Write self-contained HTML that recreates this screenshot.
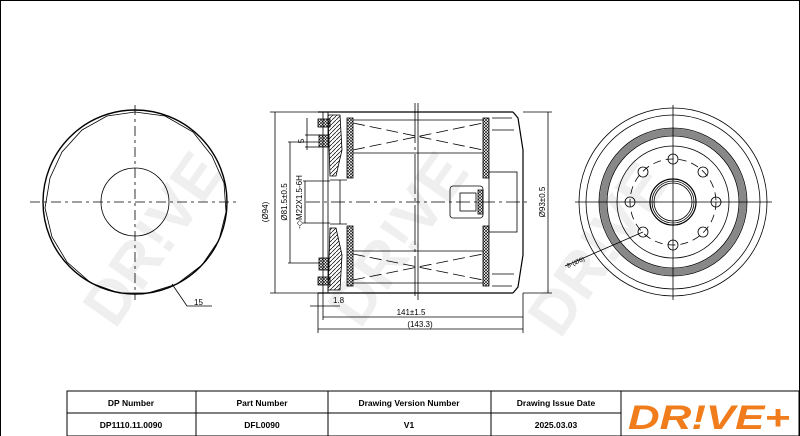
<!DOCTYPE html>
<html><head><meta charset="utf-8"><style>
html,body{margin:0;padding:0;background:#fff;}
svg{display:block;font-family:"Liberation Sans",sans-serif;}
</style></head><body>
<svg width="800" height="436" viewBox="0 0 800 436" xmlns="http://www.w3.org/2000/svg">
<defs>
<pattern id="hx" width="3" height="3" patternUnits="userSpaceOnUse"><path d="M0 3L3 0M0 0L3 3" stroke="#000" stroke-width="0.6"/></pattern>
<pattern id="hd" width="4" height="4" patternUnits="userSpaceOnUse"><path d="M0 4L4 0" stroke="#000" stroke-width="0.7"/></pattern>
</defs>
<rect x="0.5" y="0.5" width="799" height="436" fill="none" stroke="#000"/>
<g fill="#efefef" font-weight="bold" font-size="62">
<text transform="translate(115,330) rotate(-55)">DR!VE</text>
<text transform="translate(360,330) rotate(-55)">DR!VE</text>
<text transform="translate(560,340) rotate(-55)">DR!VE</text>
</g>
<g stroke="#000" fill="none" stroke-width="0.8">
<circle cx="135" cy="202" r="92" stroke-width="1.4"/>
<polygon points="135,112 165,116 193,132 212,156 224,183 226,212 219,240 202,265 177,284 148,293 119,293 91,283 67,262 52,237 45,208 50,178 62,152 82,130 107,116" />
<circle cx="135" cy="202" r="34"/>
<line x1="30" y1="202" x2="240" y2="202" stroke-dasharray="10,4,3,4"/>
<line x1="135" y1="105" x2="135" y2="300" stroke-dasharray="10,4,3,4"/>
<polyline points="172,284 187,306 212,306"/>
<line x1="318" y1="112" x2="513" y2="112" stroke-width="1.2"/>
<line x1="318" y1="293" x2="513" y2="293" stroke-width="1.2"/>
<polyline points="513,112 518,118 523,150 523,255 518,287 513,293" stroke-width="1.2"/>
<rect x="323" y="112" width="5" height="181"/>
<rect x="318" y="119" width="12" height="8" fill="url(#hx)"/>
<rect x="318" y="277" width="12" height="8" fill="url(#hx)"/>
<rect x="319" y="135" width="10" height="12" fill="url(#hx)"/>
<rect x="319" y="258" width="10" height="12" fill="url(#hx)"/>
<polygon points="328,115 340,115 342,150 336,176 330,176" fill="url(#hd)"/>
<polygon points="328,290 340,290 342,255 336,228 330,228" fill="url(#hd)"/>
<rect x="347" y="118" width="6" height="60" fill="url(#hx)"/>
<rect x="347" y="226" width="6" height="60" fill="url(#hx)"/>
<rect x="483" y="118" width="6" height="60" fill="url(#hx)"/>
<rect x="483" y="226" width="6" height="60" fill="url(#hx)"/>
<line x1="353" y1="120" x2="483" y2="120"/><line x1="353" y1="153" x2="483" y2="153"/>
<line x1="353" y1="251" x2="483" y2="251"/><line x1="353" y1="283" x2="483" y2="283"/>
<line x1="353" y1="123" x2="483" y2="150" stroke-dasharray="12,5"/>
<line x1="353" y1="150" x2="483" y2="123" stroke-dasharray="12,5"/>
<line x1="353" y1="254" x2="483" y2="280" stroke-dasharray="12,5"/>
<line x1="353" y1="280" x2="483" y2="254" stroke-dasharray="12,5"/>
<rect x="489" y="172" width="28" height="60"/>
<rect x="450" y="186" width="33" height="32" rx="3"/>
<rect x="460" y="193" width="16" height="18"/>
<rect x="478" y="190" width="5" height="24" fill="url(#hx)"/>
<path d="M492 118 H512 M492 130 H514 M492 286 H512 M492 274 H514"/>
<line x1="330" y1="180" x2="347" y2="180"/><line x1="330" y1="224" x2="347" y2="224"/>
<line x1="340" y1="180" x2="340" y2="224"/>
<line x1="306" y1="202" x2="528" y2="202" stroke-dasharray="14,4,3,4"/>
<line x1="415" y1="103" x2="415" y2="300" stroke-dasharray="40,4,3,4"/>
<line x1="418" y1="103" x2="418" y2="300"/>
<line x1="275" y1="112" x2="275" y2="293"/>
<line x1="270" y1="112" x2="318" y2="112"/><line x1="270" y1="293" x2="318" y2="293"/>
<line x1="290" y1="142" x2="290" y2="263"/>
<line x1="288" y1="142" x2="320" y2="142"/><line x1="288" y1="263" x2="320" y2="263"/>
<line x1="305" y1="181" x2="305" y2="223"/>
<line x1="303" y1="181" x2="330" y2="181"/><line x1="303" y1="223" x2="330" y2="223"/>
<line x1="307" y1="118" x2="307" y2="150"/>
<line x1="305" y1="135" x2="320" y2="135"/><line x1="305" y1="147" x2="320" y2="147"/>
<line x1="548" y1="112" x2="548" y2="293"/>
<line x1="523" y1="112" x2="552" y2="112"/><line x1="523" y1="293" x2="552" y2="293"/>
<line x1="323" y1="317" x2="523" y2="317"/>
<line x1="318" y1="329" x2="523" y2="329"/>
<line x1="323" y1="293" x2="323" y2="320"/><line x1="318" y1="293" x2="318" y2="333"/>
<line x1="523" y1="293" x2="523" y2="333"/>
<line x1="310" y1="306" x2="340" y2="306"/>
<circle cx="673" cy="202" r="94"/>
<circle cx="673" cy="202" r="87"/>
<circle cx="673" cy="202" r="74"/>
<circle cx="673" cy="202" r="70" stroke-width="7" stroke="#888"/>
<circle cx="673" cy="202" r="66"/>
<circle cx="673" cy="202" r="56"/>
<circle cx="673" cy="202" r="43" stroke-dasharray="8,5"/>
<circle cx="673" cy="202" r="23" stroke-width="1.2"/>
<circle cx="673" cy="202" r="21"/>
<circle cx="673" cy="202" r="19"/>
<g>
<circle cx="673" cy="159" r="5"/><circle cx="673" cy="245" r="5"/>
<circle cx="630" cy="202" r="5"/><circle cx="716" cy="202" r="5"/>
<circle cx="643" cy="172" r="5"/><circle cx="703" cy="172" r="5"/>
<circle cx="643" cy="232" r="5"/><circle cx="703" cy="232" r="5"/>
</g>
<line x1="575" y1="202" x2="772" y2="202"/>
<line x1="673" y1="105" x2="673" y2="300"/>
<line x1="643" y1="232" x2="565" y2="266"/>
</g>
<g font-size="8" fill="#000">
<text x="194" y="305">15</text>
<text transform="translate(268,212) rotate(-90)" text-anchor="middle">(Ø94)</text>
<text transform="translate(287,202) rotate(-90)" text-anchor="middle">Ø81.5±0.5</text>
<text transform="translate(302,202) rotate(-90)" text-anchor="middle">-◇M22X1.5-6H</text>
<text transform="translate(304,141) rotate(-90)" text-anchor="middle">5</text>
<text transform="translate(545,202) rotate(-90)" text-anchor="middle">Ø93±0.5</text>
<text x="333" y="303">1.8</text>
<text x="411" y="315" text-anchor="middle">141±1.5</text>
<text x="420" y="327" text-anchor="middle">(143.3)</text>
<text transform="translate(568,268) rotate(-24)" font-size="6.5">8-(Ø6)</text>
</g>
<g stroke="#000" stroke-width="1" fill="none">
<rect x="67" y="391" width="732" height="45"/>
<line x1="67" y1="413" x2="621" y2="413"/>
<line x1="196" y1="391" x2="196" y2="436"/>
<line x1="328" y1="391" x2="328" y2="436"/>
<line x1="491" y1="391" x2="491" y2="436"/>
<line x1="621" y1="391" x2="621" y2="436"/>
</g>
<g font-size="8.5" font-weight="bold" text-anchor="middle" fill="#000">
<text x="131" y="406">DP Number</text><text x="262" y="406">Part Number</text>
<text x="409" y="406">Drawing Version Number</text><text x="556" y="406">Drawing Issue Date</text>
<text x="131" y="428">DP1110.11.0090</text><text x="262" y="428">DFL0090</text>
<text x="409" y="428">V1</text><text x="556" y="428">2025.03.03</text>
</g>
<text x="628" y="429" font-size="34" font-weight="bold" font-style="italic" fill="#f07c1c" textLength="162" lengthAdjust="spacingAndGlyphs">DR!VE+</text>
</svg>
</body></html>
